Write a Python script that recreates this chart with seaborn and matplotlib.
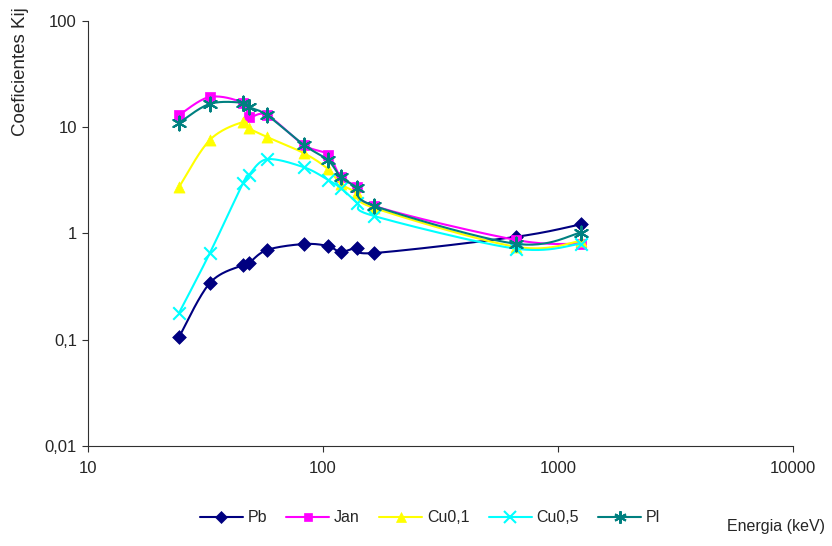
import numpy as np
import pandas as pd
import matplotlib
matplotlib.use("Agg")
import matplotlib.pyplot as plt
import seaborn as sns
from matplotlib.lines import Line2D
from matplotlib.ticker import FixedLocator, FixedFormatter, NullLocator

# ------------------------
# Data
# ------------------------
energia = [24.4, 33, 45.7, 48.4, 57.8, 83, 105, 119, 140, 165, 662, 1250]

pb = [0.106, 0.342, 0.506, 0.527, 0.70, 0.796, 0.762, 0.67, 0.73, 0.655, 0.93, 1.22]
jan = [13.0, 19.3, 16.9, 12.5, 13.0, 6.8, 5.5, 3.4, 2.74, 1.82, 0.87, 0.80]
cu01 = [2.74, 7.6, 11.2, 9.8, 8.1, 5.7, 4.05, 2.93, 2.4, 1.74, 0.75, 0.85]
cu05 = [0.179, 0.655, 2.99, 3.56, 5.0, 4.2, 3.2, 2.68, 1.94, 1.46, 0.72, 0.80]
pl = [11.0, 16.6, 17.0, 15.5, 13.0, 6.8, 4.9, 3.4, 2.68, 1.82, 0.80, 1.02]

series = ["Pb", "Jan", "Cu0,1", "Cu0,5", "Pl"]
values = [pb, jan, cu01, cu05, pl]
colors = ["#000080", "#FF00FF", "#FFFF00", "#00FFFF", "#008080"]
markers = ["D", "s", "^", "x", (6, 2, 0)]
msizes = [7, 7, 8, 9, 10]

y_ticks = [0.01, 0.1, 1, 10, 100]
y_labels = ["0,01", "0,1", "1", "10", "100"]
x_ticks = [10, 100, 1000, 10000]
x_labels = ["10", "100", "1000", "10000"]


# ------------------------
# Smoothing (Excel-like, Catmull-Rom in log-log space)
# ------------------------
def smooth(x, y, n=30):
    lx = np.log10(x)
    ly = np.log10(y)
    p = np.column_stack([lx, ly])
    p = np.vstack([p[0], p, p[-1]])
    out = []
    t = np.linspace(0, 1, n)
    for i in range(1, len(p) - 2):
        p0, p1, p2, p3 = p[i - 1], p[i], p[i + 1], p[i + 2]
        c1 = p1 + (p2 - p0) / 6
        c2 = p2 - (p3 - p1) / 6
        b = ((1 - t) ** 3)[:, None] * p1 + (3 * (1 - t) ** 2 * t)[:, None] * c1 \
            + (3 * (1 - t) * t ** 2)[:, None] * c2 + (t ** 3)[:, None] * p2
        out.append(b if i == 1 else b[1:])
    out = np.vstack(out)
    return 10 ** out[:, 0], 10 ** out[:, 1]


sns.set_style("white")
plt.rcParams["font.family"] = ["Liberation Sans", "DejaVu Sans"]

fig = plt.figure(figsize=(8.32, 5.46), dpi=100)
ax = fig.add_axes([0.1058, 0.1832, 0.8472, 0.7783])

handles = []
for k, (name, vals) in enumerate(zip(series, values)):
    sx, sy = smooth(energia, vals)
    curve = pd.DataFrame({"x": sx, "y": sy})
    sns.lineplot(data=curve, x="x", y="y", ax=ax, color=colors[k], lw=1.5,
                 sort=False, estimator=None, zorder=2 + k)
    pts = pd.DataFrame({"x": energia, "y": vals})
    mk = markers[k]
    open_mk = mk == "x" or isinstance(mk, tuple)
    kw = dict(s=msizes[k] ** 2, color=colors[k], marker=mk, zorder=2 + k,
              edgecolor=colors[k], linewidth=1.5 if open_mk else 0.5)
    sns.scatterplot(data=pts, x="x", y="y", ax=ax, legend=False, **kw)
    handles.append(Line2D([0], [0], color=colors[k], lw=1.5, marker=mk,
                          markersize=msizes[k] - 1,
                          markeredgewidth=1.5 if open_mk else 0.5,
                          markeredgecolor=colors[k]))

ax.set_xscale("log")
ax.set_yscale("log")
ax.set_xlim(10, 10000)
ax.set_ylim(0.01, 100)
ax.xaxis.set_major_locator(FixedLocator(x_ticks))
ax.xaxis.set_major_formatter(FixedFormatter(x_labels))
ax.xaxis.set_minor_locator(NullLocator())
ax.yaxis.set_major_locator(FixedLocator(y_ticks))
ax.yaxis.set_major_formatter(FixedFormatter(y_labels))
ax.yaxis.set_minor_locator(NullLocator())
ax.tick_params(axis="both", which="major", direction="out", length=4, width=0.8,
               color="#303030", labelsize=12, bottom=True, left=True)
ax.tick_params(axis="x", pad=7)
ax.tick_params(axis="y", pad=4)

for s in ["top", "right"]:
    ax.spines[s].set_visible(False)
for s in ["left", "bottom"]:
    ax.spines[s].set_color("#303030")
    ax.spines[s].set_linewidth(0.8)

ax.set_xlabel("")
ax.set_ylabel("")
fig.text(20.5 / 832, 1 - 72 / 546, "Coeficientes Kij", rotation=90,
         ha="center", va="center", fontsize=13.5)
fig.text(776 / 832, 1 - 527 / 546, "Energia (keV)", ha="center", va="center",
         fontsize=11.5)

fig.legend(handles, series, loc="center", bbox_to_anchor=(430 / 832, 1 - 518 / 546),
           ncol=5, frameon=False, fontsize=11.5, handlelength=2.7,
           handletextpad=0.3, columnspacing=1.2)

fig.savefig("out.png", dpi=100)
